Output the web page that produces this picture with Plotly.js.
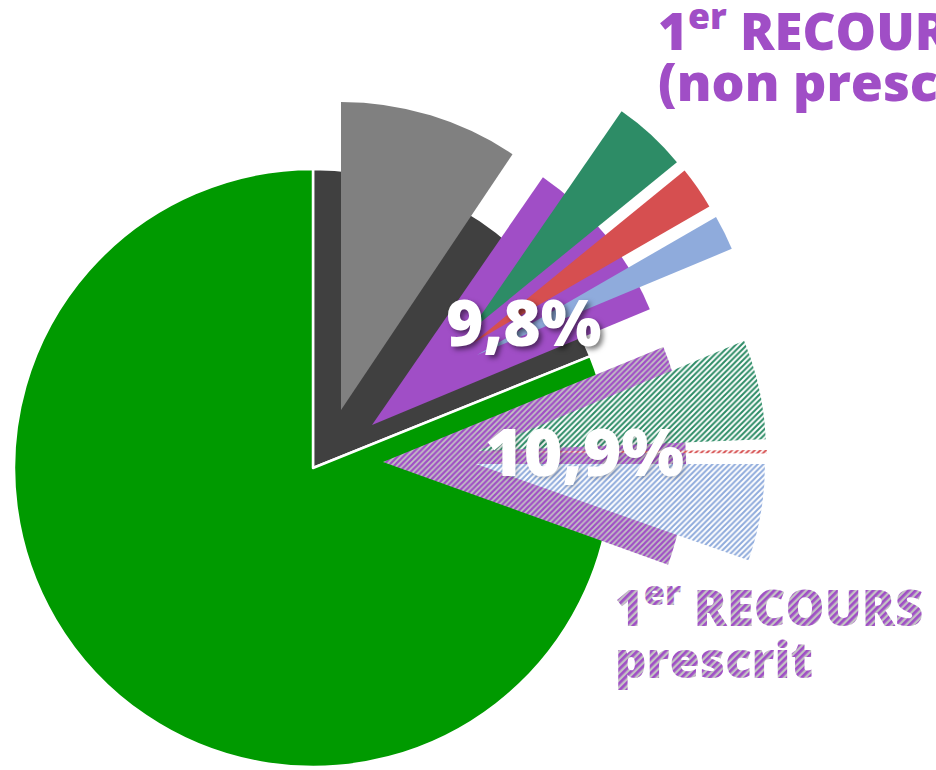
<!DOCTYPE html>
<html>
<head>
<meta charset="utf-8">
<script src="https://cdn.plot.ly/plotly-3.0.1.min.js"></script>
<style>
  html, body { margin: 0; padding: 0; background: #ffffff; }
  #chart { width: 936px; height: 770px; }
</style>
</head>
<body>
<div id="chart"></div>
<script>
// ---------------- DATA (percentages) ----------------
const baseLabels = ["1er recours (total)", "Pas de 1er recours"];
const baseValues = [18.9, 81.1];

const groupLabels = ["Autre recours", "1er RECOURS (non prescrit)", "1er RECOURS prescrit"];
const groupValues = [9.4, 9.1, 11.7];

const detailLabels = ["Type A", "Type B", "Type C"];
const nonPrescritValues = [4.5, 2.55, 2.05];
const prescritValues = [5.6, 0.2, 5.4];

const pctLabels = ["9,8%", "10,9%"];
const titleNonPrescrit = ["1<sup>er</sup> RECOURS", "(non prescrit)"];
const titlePrescrit = ["1<sup>er</sup> RECOURS", "prescrit"];

// ---------------- STYLE / POSITION ----------------
const W = 936, H = 770;
const C = {
  green: "#009a00", dark: "#404040", grey: "#808080", purple: "#a04ec6",
  teal: "#2d8c66", red: "#d64f50", blue: "#8fabdc", hatchBg: "#c3c3c3"
};

function dom(cx, cy, r) {
  return { x: [(cx - r) / W, (cx + r) / W], y: [1 - (cy + r) / H, 1 - (cy - r) / H] };
}

function wedge(label, value, start, cx, cy, r, fill, pat) {
  const t = {
    type: "pie", sort: false, direction: "clockwise", rotation: start,
    labels: [label, label + " (reste)"], values: [value, 100 - value],
    marker: { colors: [fill, "rgba(0,0,0,0)"], line: { width: 0 } },
    textinfo: "none", hoverinfo: "skip", showlegend: false,
    domain: dom(cx, cy, r)
  };
  if (pat) {
    t.marker.pattern = {
      shape: ["/", ""], fgcolor: [pat.fg, "rgba(0,0,0,0)"], bgcolor: [pat.bg, "rgba(0,0,0,0)"],
      size: pat.size || 4, solidity: pat.solidity || 0.5, fillmode: "replace"
    };
  }
  return t;
}

const traces = [];
// base pie
traces.push({
  type: "pie", sort: false, direction: "clockwise", rotation: 0,
  labels: baseLabels, values: baseValues,
  marker: { colors: [C.dark, C.green], line: { color: "#ffffff", width: 2.5 } },
  textinfo: "none", hoverinfo: "skip", showlegend: false,
  domain: dom(313, 468, 299)
});
// light grey exploded piece
traces.push(wedge(groupLabels[0], groupValues[0], 0, 341, 410, 308, C.grey));
// purple non prescrit
traces.push(wedge(groupLabels[1], groupValues[1], 34.6, 372, 425, 301, C.purple));
// non prescrit details
traces.push(wedge(detailLabels[0] + " NP", nonPrescritValues[0], 34.6, 470, 331, 267, C.teal));
traces.push(wedge(detailLabels[1] + " NP", nonPrescritValues[1], 50.8, 473, 343, 273, C.red));
traces.push(wedge(detailLabels[2] + " NP", nonPrescritValues[2], 60.0, 477, 355, 276, C.blue));
// hatched prescrit
traces.push(wedge(groupLabels[2], groupValues[2], 67.7, 383, 462, 303, C.purple, { fg: C.purple, bg: C.hatchBg, size: 4, solidity: 0.55 }));
traces.push(wedge(detailLabels[0] + " P", prescritValues[0], 67.5, 478, 451, 288, C.teal, { fg: C.teal, bg: "#ffffff", size: 4, solidity: 0.5 }));
traces.push(wedge(detailLabels[1] + " P", prescritValues[1], 89.6, 477, 452, 290, C.red, { fg: C.red, bg: "#ffffff", size: 4, solidity: 0.5 }));
traces.push(wedge(detailLabels[2] + " P", prescritValues[2], 90.0, 476, 464, 289, C.blue, { fg: C.blue, bg: "#ffffff", size: 4, solidity: 0.5 }));

const FONT = "'Open Sans', 'DejaVu Sans', sans-serif";
function ann(text, x, y, xanchor, size, color, shadow) {
  return {
    text: text, x: x / W, y: 1 - y / H, xref: "paper", yref: "paper",
    showarrow: false, xanchor: xanchor, yanchor: "middle",
    font: { family: FONT, size: size, color: color, weight: 800, shadow: shadow || "none" }
  };
}

const layout = {
  width: W, height: H,
  margin: { l: 0, r: 0, t: 0, b: 0, pad: 0 },
  paper_bgcolor: "#ffffff", plot_bgcolor: "#ffffff",
  showlegend: false,
  annotations: [
    ann(pctLabels[0], 523, 321, "center", 64, "#ffffff", "3px 3px 5px rgba(0,0,0,0.5)"),
    ann(pctLabels[1], 584, 450, "center", 66, "#ffffff", "2px 2px 4px rgba(0,0,0,0.2)"),
    ann(titleNonPrescrit[0], 656, 28, "left", 51, C.purple),
    ann(titleNonPrescrit[1], 656, 80, "left", 52, C.purple),
    ann(titlePrescrit[0], 613, 604, "left", 49, C.purple),
    ann(titlePrescrit[1], 613, 659, "left", 49, C.purple)
  ]
};

const gd = document.getElementById("chart");
Plotly.newPlot(gd, traces, layout, { displayModeBar: false, staticPlot: true }).then(function () {
  // striped fill for the "prescrit" caption, like the hatched slices
  const NS = "http://www.w3.org/2000/svg";
  [4, 5].forEach(function (idx) {
    const g = gd.querySelector('.annotation[data-index="' + idx + '"]');
    if (!g) return;
    const txt = g.querySelector(".annotation-text");
    const svg = txt.ownerSVGElement;
    if (!svg.querySelector("#hatchTxt")) {
      const defs = document.createElementNS(NS, "defs");
      const p = document.createElementNS(NS, "pattern");
      p.setAttribute("id", "hatchTxt");
      p.setAttribute("patternUnits", "userSpaceOnUse");
      p.setAttribute("width", "5"); p.setAttribute("height", "5");
      p.setAttribute("patternTransform", "rotate(45)");
      const r1 = document.createElementNS(NS, "rect");
      r1.setAttribute("width", "5"); r1.setAttribute("height", "5"); r1.setAttribute("fill", C.hatchBg);
      const r2 = document.createElementNS(NS, "rect");
      r2.setAttribute("width", "2.7"); r2.setAttribute("height", "5"); r2.setAttribute("fill", C.purple);
      p.appendChild(r1); p.appendChild(r2); defs.appendChild(p);
      svg.insertBefore(defs, svg.firstChild);
    }
    txt.style.fill = "url(#hatchTxt)";
    txt.querySelectorAll("tspan").forEach(function (s) { s.style.fill = "url(#hatchTxt)"; });
  });
});
</script>
</body>
</html>
